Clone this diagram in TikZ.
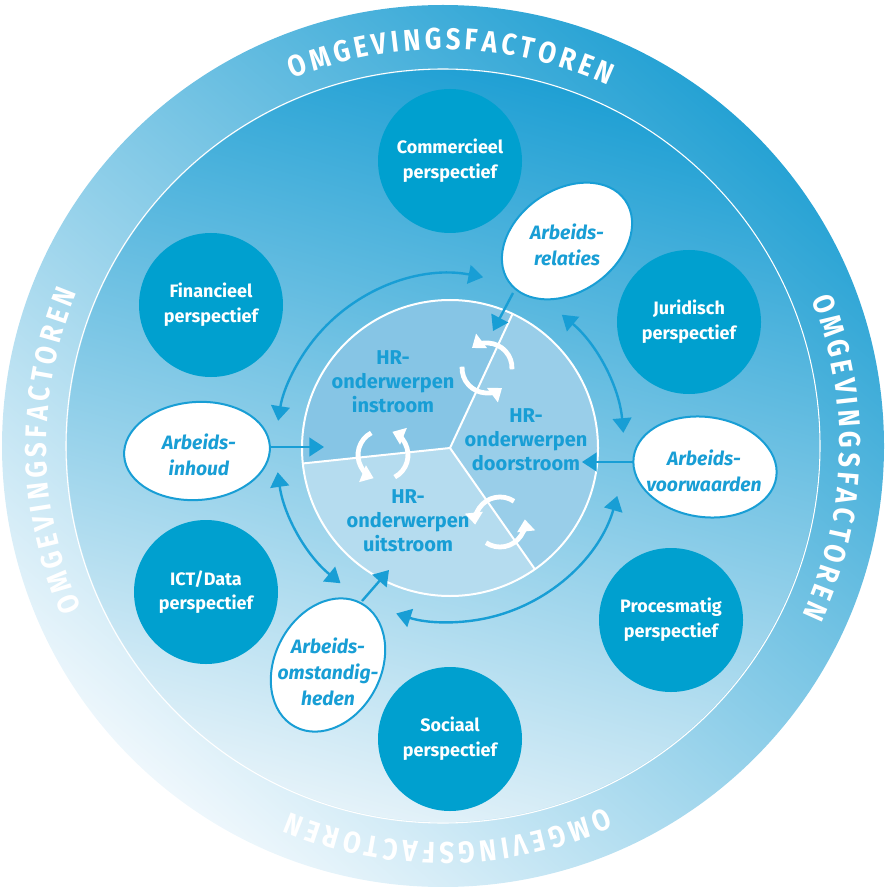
\documentclass[tikz,border=0pt]{standalone}
\usepackage{fontspec}
\setmainfont{Fira Sans}
\newfontfamily\ringfamily{Fira Sans}[FakeStretch=0.86]
\usetikzlibrary{arrows.meta,calc}

\definecolor{ringdark}{RGB}{38,162,212}
\definecolor{ringlight}{RGB}{238,247,252}
\definecolor{fielddark}{RGB}{32,160,212}
\definecolor{fieldlight}{RGB}{228,242,249}
\definecolor{perspblue}{RGB}{0,160,207}
\definecolor{hrblue}{RGB}{24,158,213}
\definecolor{instroomfill}{RGB}{134,197,229}
\definecolor{doorstroomfill}{RGB}{153,206,233}
\definecolor{uitstroomfill}{RGB}{181,220,239}

\newcommand\ringfont{\ringfamily\bfseries\fontsize{22.5}{22.5}\selectfont}
\newlength\chw

\tikzset{
  persp/.style={circle, fill=perspblue, minimum size=108pt, inner sep=0pt, text=white,
    align=center, font=\bfseries\fontsize{13.5}{18.5}\selectfont},
  hrtext/.style={text=hrblue, align=center, font=\bfseries\fontsize{15}{18}\selectfont},
  aspect/.style={text=hrblue, align=center, font=\bfseries\itshape\fontsize{14.5}{19.5}\selectfont},
  oval/.style={draw=hrblue, fill=white, line width=1.5pt},
  flow/.style={draw=hrblue, line width=1.8pt, -{Triangle[length=11pt,width=14pt]}},
  twoway/.style={draw=hrblue, line width=1.8pt, {Triangle[length=11pt,width=14pt]}-{Triangle[length=11pt,width=14pt]}},
  cyclearrow/.style={draw=white, line width=3.6pt, -{Triangle[length=9pt,width=13pt]}},
  ringletter/.style={text=white, inner sep=0pt, text height=15.5pt, text depth=0pt, font=\ringfont}
}

\begin{document}
% letter widths of the ring text, measured once
\settowidth\chw{\ringfont OMGEVINGSFACTOREN}\xdef\ringtotal{\the\chw}
\foreach \ch in {O,M,G,E,V,I,N,S,F,A,C,T,R} {
  \settowidth\chw{\ringfont\ch}\expandafter\xdef\csname ringw\ch\endcsname{\the\chw}
}
\begin{tikzpicture}[x=0.75pt,y=0.75pt,yscale=-1,xscale=1]
\useasboundingbox (0,0) rectangle (887,887);
\coordinate (ringc) at (443,446);
\coordinate (hub) at (450,448);

%Shape: Circle (outer ring)
\shade[top color=ringdark, bottom color=ringlight, shading angle=-40] (ringc) circle [radius=441];
%Shape: Circle (inner field)
\shade[top color=fielddark, bottom color=fieldlight, shading angle=-15] (ringc) circle [radius=376];
\draw[white, line width=0.8pt] (ringc) circle [radius=377];

% Text along the ring, four times; spacing spread over 46.4 degrees
\pgfmathsetmacro\track{(46.4*pi/180*407*0.75-\ringtotal)/16}
\foreach \a [count=\s] in {89,-1.5,-89,181} {
  \foreach \ch [count=\k, remember=\pos as \prev (initially 0)] in {O,M,G,E,V,I,N,G,S,F,A,C,T,O,R,E,N} {
    \edef\w{\csname ringw\ch\endcsname}
    \pgfmathsetmacro\pos{\prev+\w+\track}
    \pgfmathsetmacro\ang{\a+23.2-(\prev+\w/2)/(407*0.75)*180/pi}
    \pgfmathsetmacro\cang{-\ang}
    \node[ringletter, rotate=\ang-90] (omg\s-\k) at ($(ringc)+(\cang:407)$) {\ch};
  }
}

%Shape: Sectors of the HR circle
\fill[instroomfill] (hub) -- ($(hub)+(-65:148)$) arc[start angle=-65, end angle=-186, radius=148] -- cycle;
\fill[doorstroomfill] (hub) -- ($(hub)+(55:148)$) arc[start angle=55, end angle=-65, radius=148] -- cycle;
\fill[uitstroomfill] (hub) -- ($(hub)+(-186:148)$) arc[start angle=-186, end angle=-305, radius=148] -- cycle;
\draw[white, line width=1.5pt] (hub) circle [radius=148];
%Straight Lines
\draw[white, line width=1.5pt] (hub) -- ($(hub)+(-65:148)$) (hub) -- ($(hub)+(-186:148)$) (hub) -- ($(hub)+(55:148)$);

%Shape: Circle (perspectives)
\node[persp] (commercieel) at (450,161) {Commercieel\\perspectief};
\node[persp] (financieel) at (211,305) {Financieel\\perspectief};
\node[persp] (juridisch) at (689,322) {Juridisch\\perspectief};
\node[persp] (ictdata) at (206,592) {ICT/Data\\perspectief};
\node[persp] (procesmatig) at (671,620) {Procesmatig\\perspectief};
\node[persp] (sociaal) at (450,739) {Sociaal\\perspectief};

% Text Node
\node[hrtext] (instroom) at (393,382) {HR-\\onderwerpen\\instroom};
% Text Node
\node[hrtext] (doorstroom) at (526,440) {HR-\\onderwerpen\\doorstroom};
% Text Node
\node[hrtext] (uitstroom) at (408,521) {HR-\\onderwerpen\\uitstroom};

%Shape: Ellipse
\draw[oval, rotate around={-35:(567,241)}] (567,241) ellipse [x radius=71, y radius=51];
\draw[oval, rotate around={-4:(197,451)}] (197,451) ellipse [x radius=73, y radius=49];
\draw[oval, rotate around={8:(705,467)}] (705,467) ellipse [x radius=72, y radius=50];
\draw[oval, rotate around={-62:(328,665)}] (328,665) ellipse [x radius=70, y radius=53];

% Text Node
\node[aspect] (relaties) at (567,245) {Arbeids-\\relaties};
\node[aspect] (inhoud) at (199,455) {Arbeids-\\inhoud};
\node[aspect] (voorwaarden) at (704,471) {Arbeids-\\voorwaarden};
\node[aspect] (omstandigheden) at (328,672) {Arbeids-\\omstandig-\\heden};

%Straight Lines with arrows into the HR circle
\coordinate (relatiesfoot) at (513,293);
\coordinate (relatiestip) at (493,331);
\coordinate (inhoudfoot) at (270,447);
\coordinate (inhoudtip) at (324,447);
\coordinate (voorwaardenfoot) at (633,462);
\coordinate (voorwaardentip) at (582,462);
\coordinate (omstandighedenfoot) at (362,601);
\coordinate (omstandighedentip) at (389,570);
\draw[flow] (relatiesfoot) -- (relatiestip);
\draw[flow] (inhoudfoot) -- (inhoudtip);
\draw[flow] (voorwaardenfoot) -- (voorwaardentip);
\draw[flow] (omstandighedenfoot) -- (omstandighedentip);

%Curve Lines around the HR circle
\draw[twoway] ($(hub)+(-79:174)$) arc[start angle=-79, end angle=-171, radius=174];
\draw[twoway] ($(hub)+(-50:174)$) arc[start angle=-50, end angle=-5, radius=174];
\draw[twoway] ($(hub)+(16:174)$) arc[start angle=16, end angle=108, radius=174];
\draw[twoway] ($(hub)+(-188:174)$) arc[start angle=-188, end angle=-231, radius=174];

%Shape: Circular arrows on the borders
\coordinate (cycup) at (487,368);
\coordinate (cycleft) at (383,455);
\coordinate (cycdown) at (500,522);
\foreach \c/\s in {cycup/3, cycleft/-118, cycdown/-56} {
  \draw[cyclearrow] ($(\c)+(\s:25)$) arc[start angle=\s, end angle=\s-130, radius=25];
  \draw[cyclearrow] ($(\c)+(\s-180:25)$) arc[start angle=\s-180, end angle=\s-310, radius=25];
}

\end{tikzpicture}
\end{document}
